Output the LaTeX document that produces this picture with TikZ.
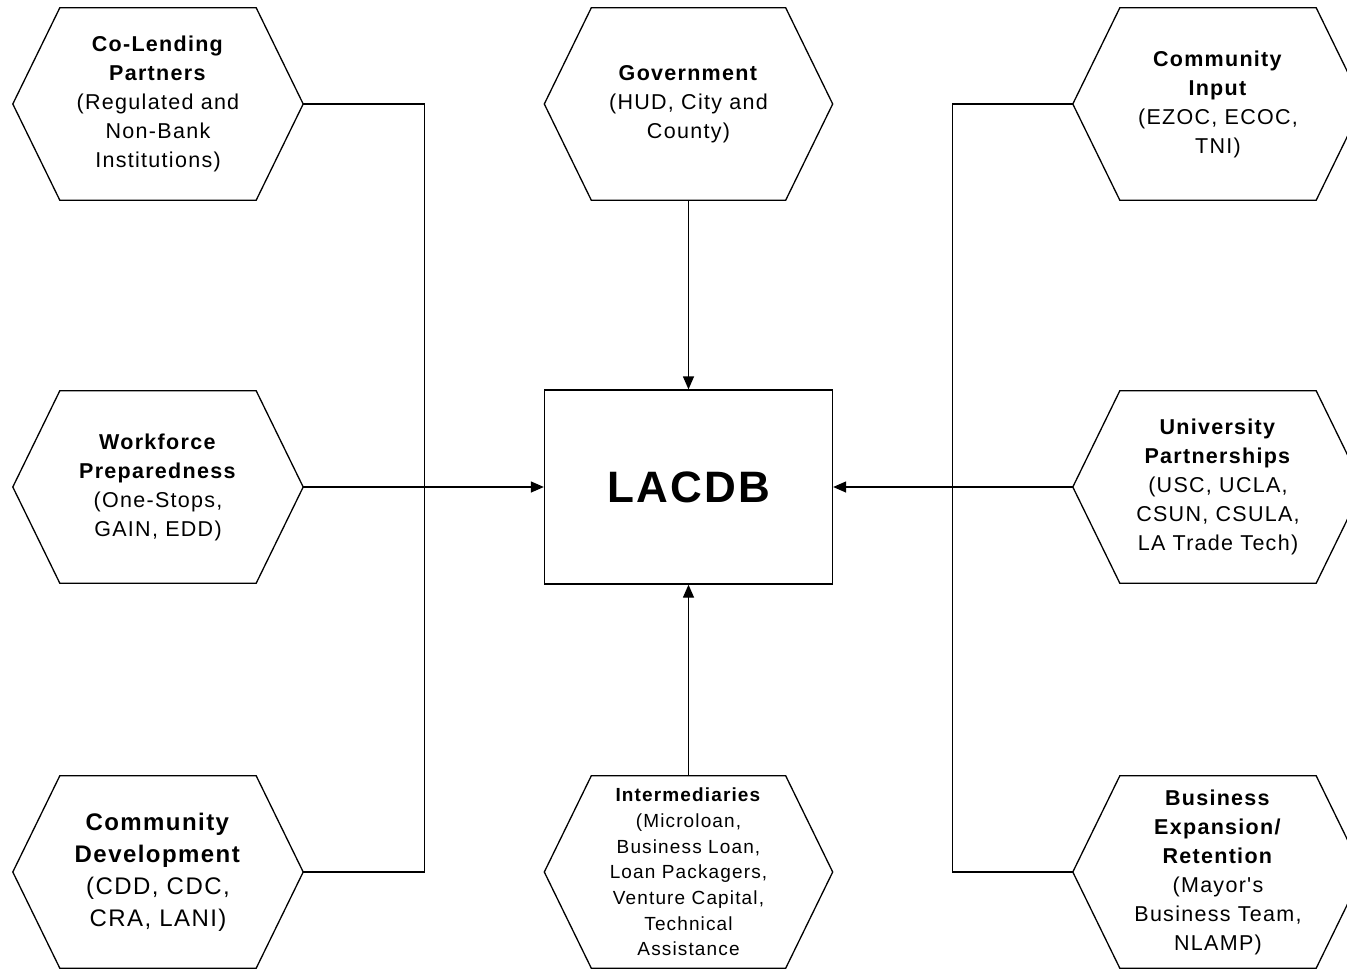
\documentclass[tikz,border=0pt]{standalone}
\usepackage{fontspec}
\setmainfont{Liberation Sans}[LetterSpace=6, Ligatures=TeXOff]
\usetikzlibrary{arrows.meta,calc}
\newcommand\hexshape[1]{\draw[hexline] (#1.west) -- ([xshift=47pt]#1.north west) -- ([xshift=-47pt]#1.north east) -- (#1.east) -- ([xshift=-47pt]#1.south east) -- ([xshift=47pt]#1.south west) -- cycle;}
\tikzset{
  hexbox/.style={minimum width=290pt, minimum height=192pt, inner sep=0pt, align=center, font=\fontsize{21.5}{29}\selectfont},
  hexline/.style={line width=1.3pt, line join=miter},
  conn/.style={line width=1.3pt},
  arr/.style={conn, -{Triangle[length=13pt,width=11pt]}},
}
\begin{document}
\begin{tikzpicture}[x=1pt,y=-1pt]
\useasboundingbox (0,0) rectangle (1347,969);
\clip (0,0) rectangle (1347,969);
% left column
\node[hexbox] (colend) at (158,104) {\textbf{Co-Lending}\\\textbf{Partners}\\(Regulated and\\Non-Bank\\Institutions)};
\node[hexbox] (work) at (158,487) {\textbf{Workforce}\\\textbf{Preparedness}\\(One-Stops,\\GAIN, EDD)};
\node[hexbox, font=\fontsize{24}{32}\selectfont] (comdev) at (158,872) {\textbf{Community}\\\textbf{Development}\\(CDD, CDC,\\CRA, LANI)};
% center column
\node[hexbox, minimum width=288pt] (gov) at (688.5,104) {\textbf{Government}\\(HUD, City and\\County)};
\node[draw, line width=1.3pt, minimum width=288pt, minimum height=194pt, inner sep=0pt, font=\fontsize{44}{50}\selectfont\bfseries\addfontfeatures{LetterSpace=5}] (lacdb) at (688.5,487) {LACDB};
\node[hexbox, minimum width=288pt, font=\fontsize{19}{25.7}\selectfont] (inter) at (688.5,872) {\textbf{Intermediaries}\\(Microloan,\\Business Loan,\\Loan Packagers,\\Venture Capital,\\Technical\\Assistance};
% right column
\node[hexbox] (cominput) at (1218,104) {\textbf{Community}\\\textbf{Input}\\(EZOC, ECOC,\\TNI)};
\node[hexbox] (univ) at (1218,487) {\textbf{University}\\\textbf{Partnerships}\\(USC, UCLA,\\CSUN, CSULA,\\LA Trade Tech)};
\node[hexbox] (bizexp) at (1218,872) {\textbf{Business}\\\textbf{Expansion/}\\\textbf{Retention}\\(Mayor's\\Business Team,\\NLAMP)};
% hexagon outlines
\hexshape{colend}
\hexshape{work}
\hexshape{comdev}
\hexshape{gov}
\hexshape{inter}
\hexshape{cominput}
\hexshape{univ}
\hexshape{bizexp}
% connectors
\draw[conn] (colend.east) -- ++(121,0) |- (comdev.east);
\draw[arr] (work.east) -- (lacdb.west);
\draw[conn] (cominput.west) -- ++(-120,0) |- (bizexp.west);
\draw[arr] (univ.west) -- (lacdb.east);
\draw[arr] (gov.south) -- (lacdb.north);
\draw[arr] (inter.north) -- (lacdb.south);
\end{tikzpicture}
\end{document}
